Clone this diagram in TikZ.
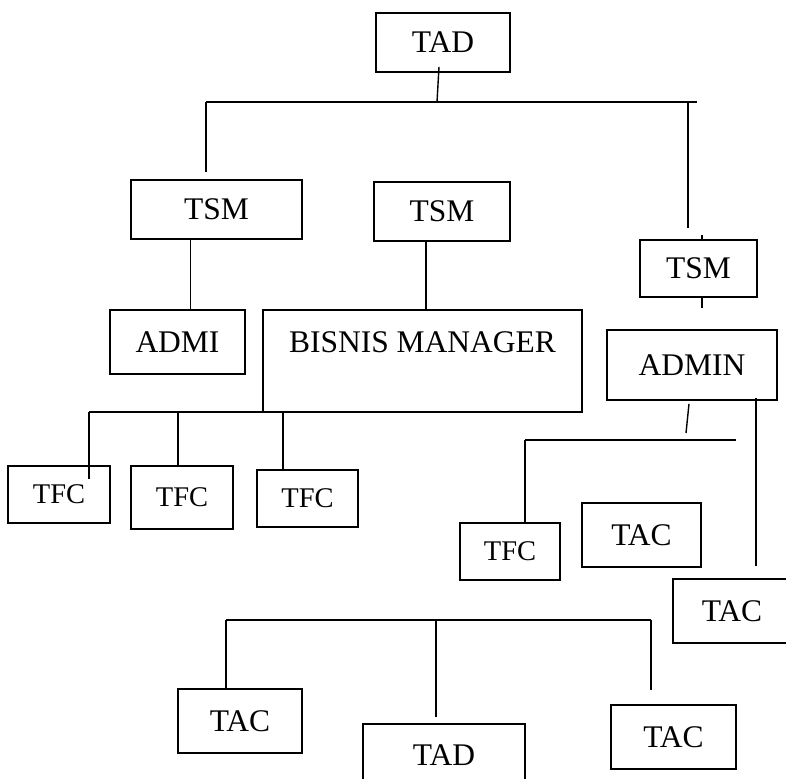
\documentclass[tikz,border=0pt]{standalone}
\usepackage{fontspec}
\setmainfont{Liberation Serif}
\usepackage{tikz}
\usetikzlibrary{calc}
\tikzset{
	unit/.style={draw=black,line width=1.6pt,inner sep=0pt,font=\fontsize{31.5}{37.8}\selectfont},
	tfcunit/.style={unit,font=\fontsize{28.5}{34}\selectfont},
}
\begin{document}
\begin{tikzpicture}[line width=1.4pt,x=1pt,y=-1pt]
	\useasboundingbox (0,0) rectangle (786,778);
	% boxes
	\node[unit,minimum width=134pt,minimum height=59pt] (tadA) at (443,42.5) {TAD};
	\node[unit,minimum width=171pt,minimum height=59pt] (tsmA) at (216.5,209.5) {TSM};
	\node[unit,minimum width=136pt,minimum height=59pt] (tsmB) at (442,211.5) {TSM};
	\node[unit,minimum width=117pt,minimum height=57pt] (tsmC) at (698.5,268.5) {TSM};
	\node[unit,minimum width=135pt,minimum height=64pt] (admi) at (177.5,342) {ADMI};
	\node[unit,minimum width=319pt,minimum height=102pt,text depth=38pt] (bisnis) at (422.5,361) {BISNIS MANAGER};
	\node[unit,minimum width=170pt,minimum height=70pt] (admin) at (692,365) {ADMIN};
	\node[tfcunit,minimum width=102pt,minimum height=57pt] (tfcA) at (59,494.5) {TFC};
	\node[tfcunit,minimum width=102pt,minimum height=63pt] (tfcB) at (182,497.5) {TFC};
	\node[tfcunit,minimum width=101pt,minimum height=57pt] (tfcC) at (307.5,498.5) {TFC};
	\node[tfcunit,minimum width=100pt,minimum height=57pt] (tfcD) at (510,551.5) {TFC};
	\node[unit,minimum width=119pt,minimum height=64pt] (tacA) at (641.5,535) {TAC};
	\node[unit,minimum width=118pt,minimum height=64pt] (tacB) at (732,611) {TAC};
	\node[unit,minimum width=124pt,minimum height=64pt] (tacC) at (240,721) {TAC};
	\node[unit,minimum width=162pt,minimum height=62pt] (tadB) at (444,755) {TAD};
	\node[unit,minimum width=125pt,minimum height=64pt] (tacD) at (673.5,737) {TAC};
	% top bus
	\coordinate (topL) at (206,102);
	\coordinate (topR) at (697,102);
	\coordinate (topM) at (437,102);
	\coordinate (tsmAend) at (206,172);
	\coordinate (tsmCend) at (688,228);
	\draw ([xshift=-4pt,yshift=6pt]tadA.south) -- (topM);
	\draw (topL) -- (topR);
	\draw (topL) -- (tsmAend);
	\draw (topL -| tsmCend) -- (tsmCend);
	\draw ([xshift=3.5pt]tsmC.north) -- ++(0,-4);
	\draw ([xshift=3.5pt]tsmC.south) -- ++(0,10);
	\draw ([xshift=-26pt]tsmA.south) -- ([xshift=-26pt]tsmA.south |- admi.north);
	\draw ([xshift=-16pt]tsmB.south) -- ([xshift=-16pt]tsmB.south |- bisnis.north);
	% TFC row
	\coordinate (tfcL) at (89,412);
	\coordinate (tfcR) at (302,412);
	\draw (tfcL) -- (tfcR);
	\draw ([xshift=30pt]tfcA.north |- tfcL) -- ([xshift=30pt,yshift=-14pt]tfcA.north);
	\draw ([xshift=-4pt]tfcB.north |- tfcL) -- ([xshift=-4pt]tfcB.north);
	\draw ([xshift=-24.5pt]tfcC.north |- tfcL) -- ([xshift=-24.5pt]tfcC.north);
	% admin
	\coordinate (admEnd) at (686,433);
	\coordinate (admL) at (525,440);
	\coordinate (admR) at (736,440);
	\draw ([xshift=-3pt,yshift=-3pt]admin.south) -- (admEnd);
	\draw (admL) -- (admR);
	\draw (admL) -- (admL |- tfcD.north);
	\draw ([xshift=64pt,yshift=3pt]admin.south) -- ([xshift=24pt,yshift=12pt]tacB.north);
	% bottom bus
	\coordinate (botL) at (226,620);
	\coordinate (botR) at (651,620);
	\draw (botL) -- (botR);
	\draw (botL) -- (botL |- tacC.north);
	\draw ([xshift=-8pt]tadB.north |- botL) -- ([xshift=-8pt,yshift=6pt]tadB.north);
	\draw (botR) -- ([xshift=-22.5pt,yshift=14pt]tacD.north);
\end{tikzpicture}
\end{document}
